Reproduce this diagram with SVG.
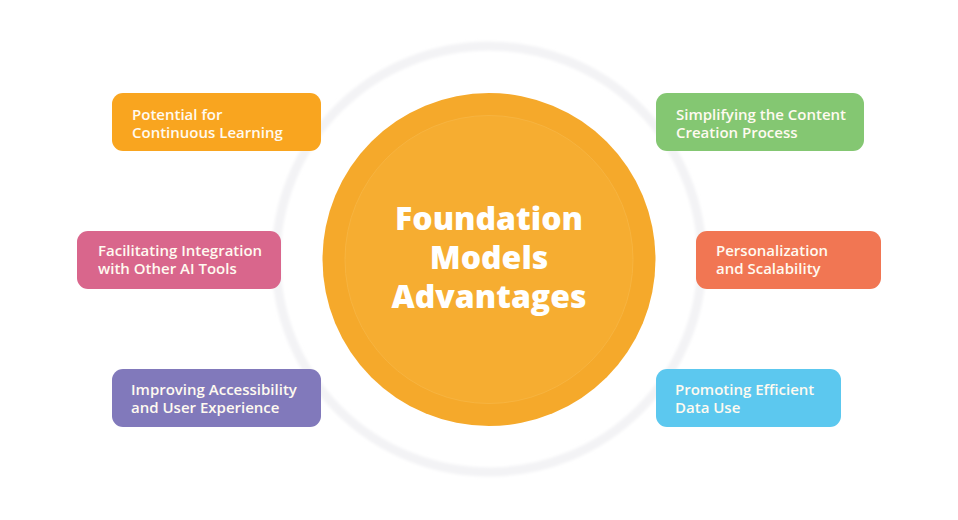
<svg xmlns="http://www.w3.org/2000/svg" width="958" height="520" viewBox="0 0 958 520">
  <defs>
    <filter id="soft" x="-10%" y="-10%" width="120%" height="120%">
      <feGaussianBlur stdDeviation="1.5"/>
    </filter>
    <style>
      .box { stroke: none; }
      .lbl { font-family: "Open Sans", "Noto Sans", "Liberation Sans", sans-serif; font-size: 15px; font-weight: 600; fill: #fffaf0; }
      .title { font-family: "Open Sans", "Noto Sans", "Liberation Sans", sans-serif; font-size: 32px; font-weight: 800; fill: #ffffff; text-anchor: middle; }
    </style>
  </defs>
  <rect width="958" height="520" fill="#ffffff"/>
  <circle cx="489" cy="259" r="213" fill="none" stroke="#f3f3f5" stroke-width="9" filter="url(#soft)"/>

  <g id="center">
    <circle cx="489" cy="259.5" r="166.5" fill="#F5A92B"/>
    <circle cx="489" cy="259.5" r="144" fill="#F6AD31" stroke="#F7B440" stroke-width="1"/>
    <text class="title" x="489" y="230">Foundation<tspan x="489" y="269">Models</tspan><tspan x="489" y="308">Advantages</tspan></text>
  </g>

  <g id="connectors"></g>

  <g id="n-continuous">
    <rect class="box" x="112" y="93" width="209" height="58" rx="11" fill="#F9A51F"/>
    <text class="lbl" x="132" y="120">Potential for<tspan x="132" y="138">Continuous Learning</tspan></text>
  </g>
  <g id="n-integration">
    <rect class="box" x="77" y="231" width="204" height="58" rx="11" fill="#D9668C"/>
    <text class="lbl" x="98" y="256">Facilitating Integration<tspan x="98" y="274">with Other AI Tools</tspan></text>
  </g>
  <g id="n-accessibility">
    <rect class="box" x="112" y="369" width="209" height="58" rx="11" fill="#8179BB"/>
    <text class="lbl" x="131" y="395">Improving Accessibility<tspan x="131" y="413">and User Experience</tspan></text>
  </g>
  <g id="n-content">
    <rect class="box" x="656" y="93" width="208" height="58" rx="11" fill="#84C772"/>
    <text class="lbl" x="676" y="120">Simplifying the Content<tspan x="676" y="138">Creation Process</tspan></text>
  </g>
  <g id="n-personalization">
    <rect class="box" x="696" y="231" width="185" height="58" rx="11" fill="#F17653"/>
    <text class="lbl" x="716" y="256">Personalization<tspan x="716" y="274">and Scalability</tspan></text>
  </g>
  <g id="n-data">
    <rect class="box" x="656" y="369" width="185" height="58" rx="11" fill="#5CC8EF"/>
    <text class="lbl" x="675" y="395">Promoting Efficient<tspan x="675" y="413">Data Use</tspan></text>
  </g>
</svg>
